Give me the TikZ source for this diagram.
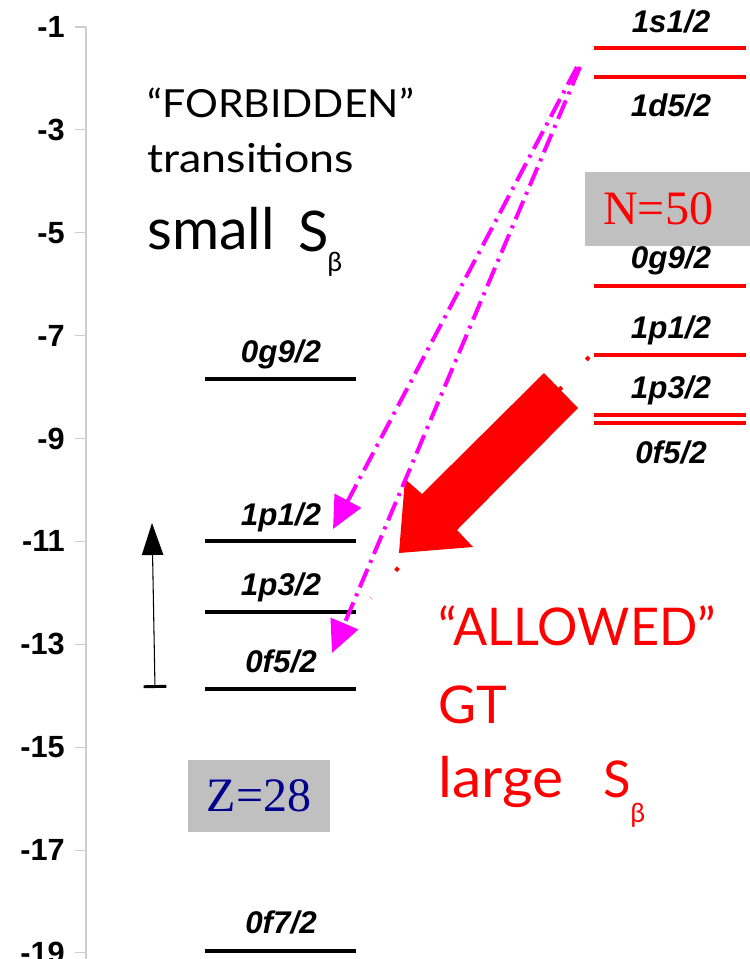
\documentclass[tikz,border=0pt]{standalone}
\usepackage{fontspec}
\setmainfont{Liberation Sans}
\newfontfamily\boxfont{Liberation Serif}
\newfontfamily\hand{Lato}
\usetikzlibrary{arrows.meta}
\definecolor{magentaA}{RGB}{255,0,255}
\definecolor{redA}{RGB}{255,0,0}
\definecolor{navyA}{RGB}{0,0,140}
\definecolor{boxgray}{RGB}{192,192,192}
\definecolor{axisgray}{RGB}{205,205,205}
\begin{document}
\begin{tikzpicture}[x=0.75pt,y=-0.75pt,
  blk/.style={line width=3pt,black},
  redlvl/.style={line width=3pt,redA},
  lvllab/.style={font=\fontsize{23.5}{26}\selectfont\bfseries\itshape, inner sep=0pt, anchor=base},
  axlab/.style={font=\fontsize{23}{25}\selectfont\bfseries, inner sep=0pt, anchor=east},
  hw/.style={inner sep=0pt, anchor=base west},
  mag/.style={magentaA, line width=3pt, dash pattern=on 15pt off 5pt on 2.25pt off 5pt,
     -{Triangle[length=24pt,width=22pt]}},
  graybox/.style={fill=boxgray, inner sep=0pt, font=\fontsize{36}{40}\selectfont\boxfont}
]
\useasboundingbox (0,0) rectangle (749,959);

% axis
\draw[axisgray, line width=0.8pt] (86,27) -- (86,970);
\foreach \v [count=\i] in {-1,-3,...,-19}{
  \pgfmathsetmacro\yy{27+(-1-\v)*51.44}
  \draw[axisgray, line width=0.8pt] (75,\yy) -- (86,\yy);
  \node[axlab] (ax\i) at (65,\yy) {\v};
}

% black (proton) levels
\foreach \n/\y/\b/\t in {b1/379/362/0g9\slash 2, b2/541/525/1p1\slash 2, b3/612/595/1p3\slash 2, b4/689/672/0f5\slash 2, b5/951/933/0f7\slash 2}{
  \coordinate (\n L) at (205,\y);
  \coordinate (\n R) at (356,\y);
  \draw[blk] (\n L) -- (\n R);
  \node[lvllab] (\n lab) at (281,\b) {\t};
}

% red (neutron) levels
\foreach \n/\y in {r1/48, r2/77, r3/286, r4/355, r5/415, r6/423}{
  \coordinate (\n L) at (594,\y);
  \coordinate (\n R) at (746,\y);
  \draw[redlvl] (\n L) -- (\n R);
}
\node[lvllab] (r1lab) at (671,33) {1s1/2};
\node[lvllab] (r2lab) at (671,117) {1d5/2};
\node[lvllab] (r3lab) at (671,268) {0g9/2};
\node[lvllab] (r4lab) at (671,338) {1p1/2};
\node[lvllab] (r5lab) at (671,398) {1p3/2};
\node[lvllab] (r6lab) at (671,463) {0f5/2};

% boxes
\node[graybox, anchor=west, minimum height=55.5pt, text width=100pt, inner xsep=13.5pt, align=left, text=redA] (n50) at (585,209) {N=50};
\node[graybox, minimum width=106.5pt, minimum height=54pt, text=navyA] (z28) at (259,796) {Z=28};

% gap arrow
\coordinate (gapB) at (155,688);
\coordinate (gapT) at (152,523);
\draw[line width=0.8pt, {Bar[width=17pt,line width=2.2pt]}-{Triangle[length=24pt,width=16pt]}] (gapB) -- (gapT);

% red dotted connector under the big arrow
\coordinate (ra1) at (589,357);
\coordinate (ra2) at (371,598);
\draw[redA, line width=3pt, dash pattern=on 3pt off 27.45pt] (ra1) -- (ra2);
% big red arrow
\fill[redA] (399,553) -- (405,479) -- (422,494) -- (544,373) -- (578,408) -- (457,530) -- (473,547) -- cycle;

% magenta forbidden transitions
\coordinate (m1s) at (577,67);
\coordinate (m1e) at (333,529);
\coordinate (m2s) at (580,67);
\coordinate (m2e) at (332,653);
\draw[mag] (m1s) -- (m1e);
\draw[mag] (m2s) -- (m2e);

% handwritten texts
\node[hw, font=\fontsize{29}{32}\selectfont\hand] (forb) at (147,118) {\scalebox{1.06}[1]{“FORBIDDEN”}};
\node[hw, font=\fontsize{30}{32}\selectfont\hand] (trans) at (147,173) {\scalebox{1.12}[1]{transitions}};
\node[hw, font=\fontsize{43}{46}\selectfont\hand] (small) at (147,249) {small};
\node[hw, font=\fontsize{42}{44}\selectfont\hand] (sS) at (298,252) {S};
\node[hw, font=\fontsize{20}{22}\selectfont\hand] (sB) at (327,272) {β};

\node[hw, font=\fontsize{39}{42}\selectfont\hand, text=redA] (allow) at (438,645) {\scalebox{0.97}[1]{“ALLOWED”}};
\node[hw, font=\fontsize{39}{42}\selectfont\hand, text=redA] (gt) at (438,723) {GT};
\node[hw, font=\fontsize{42}{46}\selectfont\hand, text=redA] (large) at (438,797) {\scalebox{1.05}[1]{large}};
\node[hw, font=\fontsize{38}{40}\selectfont\hand, text=redA] (lS) at (603,797) {S};
\node[hw, font=\fontsize{20}{22}\selectfont\hand, text=redA] (lB) at (630,822) {β};
\end{tikzpicture}
\end{document}
